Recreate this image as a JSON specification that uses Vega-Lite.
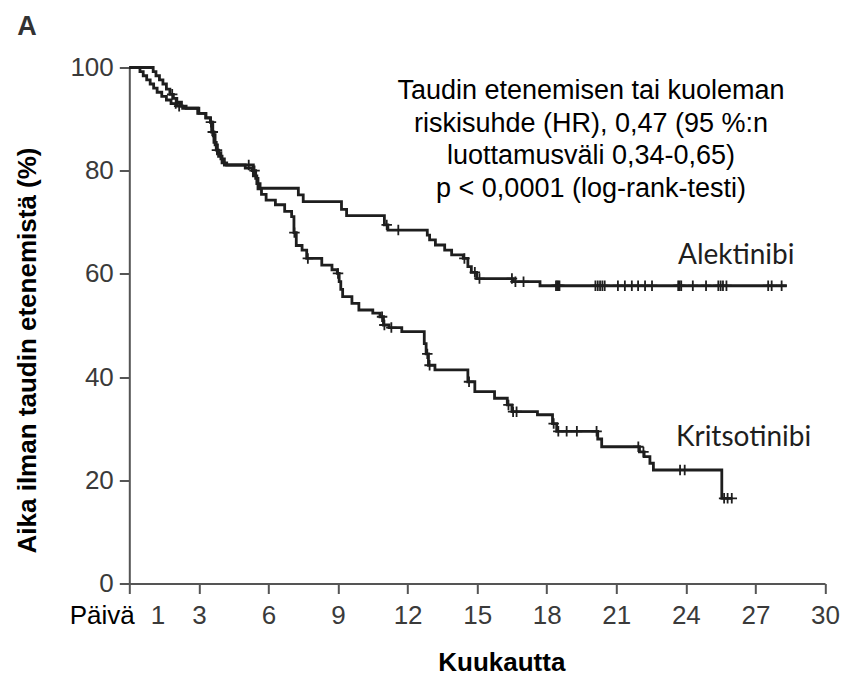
{
  "$schema": "https://vega.github.io/schema/vega-lite/v6.json",
  "width": 695.7,
  "height": 516,
  "autosize": {"type": "none"},
  "padding": {"left": 129.3, "top": 67.5, "right": 20, "bottom": 93.5},
  "background": "white",
  "title": {"text": "A", "anchor": "start", "frame": "group", "dx": -112, "dy": 25, "offset": 18, "baseline": "alphabetic", "fontSize": 27, "fontWeight": "bold", "color": "#333333", "font": "Liberation Sans"},
  "config": {"view": {"stroke": null}},
  "datasets": {
    "curves": [
      {"group": "Alektinibi", "t": 0, "s": 100},
      {"group": "Alektinibi", "t": 1.03, "s": 99.2},
      {"group": "Alektinibi", "t": 1.15, "s": 98.4},
      {"group": "Alektinibi", "t": 1.3, "s": 97.6},
      {"group": "Alektinibi", "t": 1.45, "s": 96.8},
      {"group": "Alektinibi", "t": 1.6, "s": 95.8},
      {"group": "Alektinibi", "t": 1.75, "s": 94.8},
      {"group": "Alektinibi", "t": 1.9, "s": 94.0},
      {"group": "Alektinibi", "t": 2.05, "s": 93.3},
      {"group": "Alektinibi", "t": 2.25, "s": 92.5},
      {"group": "Alektinibi", "t": 2.45, "s": 92.1},
      {"group": "Alektinibi", "t": 3.0, "s": 91.1},
      {"group": "Alektinibi", "t": 3.3, "s": 90.2},
      {"group": "Alektinibi", "t": 3.5, "s": 89.4},
      {"group": "Alektinibi", "t": 3.6, "s": 87.0},
      {"group": "Alektinibi", "t": 3.7, "s": 85.0},
      {"group": "Alektinibi", "t": 3.8, "s": 83.5},
      {"group": "Alektinibi", "t": 3.95, "s": 82.3},
      {"group": "Alektinibi", "t": 4.1, "s": 81.1},
      {"group": "Alektinibi", "t": 5.35, "s": 79.0},
      {"group": "Alektinibi", "t": 5.5, "s": 77.5},
      {"group": "Alektinibi", "t": 5.64, "s": 76.6},
      {"group": "Alektinibi", "t": 7.29, "s": 75.3},
      {"group": "Alektinibi", "t": 7.5, "s": 74.0},
      {"group": "Alektinibi", "t": 9.15, "s": 72.5},
      {"group": "Alektinibi", "t": 9.37, "s": 71.3},
      {"group": "Alektinibi", "t": 11.0, "s": 69.5},
      {"group": "Alektinibi", "t": 11.15, "s": 68.5},
      {"group": "Alektinibi", "t": 12.85, "s": 67.5},
      {"group": "Alektinibi", "t": 12.95, "s": 66.6},
      {"group": "Alektinibi", "t": 13.2, "s": 65.6},
      {"group": "Alektinibi", "t": 13.6, "s": 64.6},
      {"group": "Alektinibi", "t": 13.9, "s": 63.7},
      {"group": "Alektinibi", "t": 14.4, "s": 63.0},
      {"group": "Alektinibi", "t": 14.6, "s": 61.4},
      {"group": "Alektinibi", "t": 14.75, "s": 60.3},
      {"group": "Alektinibi", "t": 14.98, "s": 59.1},
      {"group": "Alektinibi", "t": 16.56, "s": 58.5},
      {"group": "Alektinibi", "t": 17.71, "s": 57.7},
      {"group": "Alektinibi", "t": 28.35, "s": 57.7},
      {"group": "Kritsotinibi", "t": 0, "s": 100},
      {"group": "Kritsotinibi", "t": 0.46, "s": 99.2},
      {"group": "Kritsotinibi", "t": 0.6, "s": 98.4},
      {"group": "Kritsotinibi", "t": 0.75, "s": 97.6},
      {"group": "Kritsotinibi", "t": 0.9, "s": 96.8},
      {"group": "Kritsotinibi", "t": 1.05, "s": 96.0},
      {"group": "Kritsotinibi", "t": 1.2, "s": 95.2},
      {"group": "Kritsotinibi", "t": 1.4, "s": 94.4},
      {"group": "Kritsotinibi", "t": 1.6, "s": 93.7},
      {"group": "Kritsotinibi", "t": 1.8, "s": 93.0},
      {"group": "Kritsotinibi", "t": 2.05, "s": 92.5},
      {"group": "Kritsotinibi", "t": 2.3, "s": 92.1},
      {"group": "Kritsotinibi", "t": 2.95, "s": 91.1},
      {"group": "Kritsotinibi", "t": 3.3, "s": 90.3},
      {"group": "Kritsotinibi", "t": 3.5, "s": 89.4},
      {"group": "Kritsotinibi", "t": 3.55, "s": 87.5},
      {"group": "Kritsotinibi", "t": 3.65, "s": 85.5},
      {"group": "Kritsotinibi", "t": 3.75, "s": 84.0},
      {"group": "Kritsotinibi", "t": 3.85, "s": 82.8},
      {"group": "Kritsotinibi", "t": 4.0, "s": 81.5},
      {"group": "Kritsotinibi", "t": 4.2, "s": 81.1},
      {"group": "Kritsotinibi", "t": 5.0, "s": 80.5},
      {"group": "Kritsotinibi", "t": 5.3, "s": 80.0},
      {"group": "Kritsotinibi", "t": 5.45, "s": 78.5},
      {"group": "Kritsotinibi", "t": 5.55, "s": 76.5},
      {"group": "Kritsotinibi", "t": 5.7, "s": 75.4},
      {"group": "Kritsotinibi", "t": 5.9, "s": 74.3},
      {"group": "Kritsotinibi", "t": 6.3, "s": 73.4},
      {"group": "Kritsotinibi", "t": 6.7, "s": 72.1},
      {"group": "Kritsotinibi", "t": 7.0, "s": 71.1},
      {"group": "Kritsotinibi", "t": 7.1, "s": 68.0},
      {"group": "Kritsotinibi", "t": 7.2, "s": 65.5},
      {"group": "Kritsotinibi", "t": 7.45, "s": 64.6},
      {"group": "Kritsotinibi", "t": 7.65, "s": 63.0},
      {"group": "Kritsotinibi", "t": 8.3, "s": 61.7},
      {"group": "Kritsotinibi", "t": 8.74, "s": 60.8},
      {"group": "Kritsotinibi", "t": 8.97, "s": 60.1},
      {"group": "Kritsotinibi", "t": 9.05, "s": 58.5},
      {"group": "Kritsotinibi", "t": 9.12, "s": 57.0},
      {"group": "Kritsotinibi", "t": 9.2, "s": 55.6},
      {"group": "Kritsotinibi", "t": 9.6, "s": 54.3},
      {"group": "Kritsotinibi", "t": 9.9, "s": 53.0},
      {"group": "Kritsotinibi", "t": 10.5, "s": 52.4},
      {"group": "Kritsotinibi", "t": 10.81, "s": 51.7},
      {"group": "Kritsotinibi", "t": 10.96, "s": 50.1},
      {"group": "Kritsotinibi", "t": 11.2, "s": 49.6},
      {"group": "Kritsotinibi", "t": 11.75, "s": 48.8},
      {"group": "Kritsotinibi", "t": 12.72, "s": 46.5},
      {"group": "Kritsotinibi", "t": 12.8, "s": 44.5},
      {"group": "Kritsotinibi", "t": 12.9, "s": 42.3},
      {"group": "Kritsotinibi", "t": 13.18, "s": 41.4},
      {"group": "Kritsotinibi", "t": 14.6, "s": 39.1},
      {"group": "Kritsotinibi", "t": 14.9, "s": 37.2},
      {"group": "Kritsotinibi", "t": 15.75, "s": 35.9},
      {"group": "Kritsotinibi", "t": 16.3, "s": 34.6},
      {"group": "Kritsotinibi", "t": 16.5, "s": 33.3},
      {"group": "Kritsotinibi", "t": 17.6, "s": 32.7},
      {"group": "Kritsotinibi", "t": 18.25, "s": 31.0},
      {"group": "Kritsotinibi", "t": 18.43, "s": 29.5},
      {"group": "Kritsotinibi", "t": 20.2, "s": 28.0},
      {"group": "Kritsotinibi", "t": 20.37, "s": 26.5},
      {"group": "Kritsotinibi", "t": 22.0, "s": 25.5},
      {"group": "Kritsotinibi", "t": 22.2, "s": 24.6},
      {"group": "Kritsotinibi", "t": 22.45, "s": 23.3},
      {"group": "Kritsotinibi", "t": 22.6, "s": 22.0},
      {"group": "Kritsotinibi", "t": 25.55, "s": 16.5},
      {"group": "Kritsotinibi", "t": 25.98, "s": 16.5}
    ],
    "censors": [
      {"group": "Alektinibi", "t": 1.85, "s": 94.8},
      {"group": "Alektinibi", "t": 3.52, "s": 89.4},
      {"group": "Alektinibi", "t": 5.15, "s": 81.1},
      {"group": "Alektinibi", "t": 11.1, "s": 69.5},
      {"group": "Alektinibi", "t": 11.6, "s": 68.5},
      {"group": "Alektinibi", "t": 14.45, "s": 63.0},
      {"group": "Alektinibi", "t": 14.9, "s": 60.3},
      {"group": "Alektinibi", "t": 15.1, "s": 59.1},
      {"group": "Alektinibi", "t": 16.5, "s": 59.1},
      {"group": "Alektinibi", "t": 16.65, "s": 58.5},
      {"group": "Alektinibi", "t": 17.0, "s": 58.5},
      {"group": "Alektinibi", "t": 18.4, "s": 57.7},
      {"group": "Alektinibi", "t": 18.45, "s": 57.7},
      {"group": "Alektinibi", "t": 18.5, "s": 57.7},
      {"group": "Alektinibi", "t": 18.55, "s": 57.7},
      {"group": "Alektinibi", "t": 20.1, "s": 57.7},
      {"group": "Alektinibi", "t": 20.2, "s": 57.7},
      {"group": "Alektinibi", "t": 20.3, "s": 57.7},
      {"group": "Alektinibi", "t": 20.4, "s": 57.7},
      {"group": "Alektinibi", "t": 20.5, "s": 57.7},
      {"group": "Alektinibi", "t": 21.07, "s": 57.7},
      {"group": "Alektinibi", "t": 21.37, "s": 57.7},
      {"group": "Alektinibi", "t": 21.67, "s": 57.7},
      {"group": "Alektinibi", "t": 21.94, "s": 57.7},
      {"group": "Alektinibi", "t": 22.24, "s": 57.7},
      {"group": "Alektinibi", "t": 22.54, "s": 57.7},
      {"group": "Alektinibi", "t": 23.67, "s": 57.7},
      {"group": "Alektinibi", "t": 23.73, "s": 57.7},
      {"group": "Alektinibi", "t": 23.8, "s": 57.7},
      {"group": "Alektinibi", "t": 24.3, "s": 57.7},
      {"group": "Alektinibi", "t": 24.87, "s": 57.7},
      {"group": "Alektinibi", "t": 25.4, "s": 57.7},
      {"group": "Alektinibi", "t": 25.5, "s": 57.7},
      {"group": "Alektinibi", "t": 25.6, "s": 57.7},
      {"group": "Alektinibi", "t": 25.75, "s": 57.7},
      {"group": "Alektinibi", "t": 27.55, "s": 57.7},
      {"group": "Alektinibi", "t": 27.7, "s": 57.7},
      {"group": "Alektinibi", "t": 28.13, "s": 57.7},
      {"group": "Kritsotinibi", "t": 2.0, "s": 93.0},
      {"group": "Kritsotinibi", "t": 2.15, "s": 92.5},
      {"group": "Kritsotinibi", "t": 3.6, "s": 87.5},
      {"group": "Kritsotinibi", "t": 3.78, "s": 84.0},
      {"group": "Kritsotinibi", "t": 5.4, "s": 80.0},
      {"group": "Kritsotinibi", "t": 7.12, "s": 68.0},
      {"group": "Kritsotinibi", "t": 7.7, "s": 63.0},
      {"group": "Kritsotinibi", "t": 9.0, "s": 60.1},
      {"group": "Kritsotinibi", "t": 10.9, "s": 51.7},
      {"group": "Kritsotinibi", "t": 11.0, "s": 50.1},
      {"group": "Kritsotinibi", "t": 11.3, "s": 49.6},
      {"group": "Kritsotinibi", "t": 12.85, "s": 44.5},
      {"group": "Kritsotinibi", "t": 12.95, "s": 42.3},
      {"group": "Kritsotinibi", "t": 14.65, "s": 39.1},
      {"group": "Kritsotinibi", "t": 16.35, "s": 34.6},
      {"group": "Kritsotinibi", "t": 16.55, "s": 33.3},
      {"group": "Kritsotinibi", "t": 16.7, "s": 33.3},
      {"group": "Kritsotinibi", "t": 18.3, "s": 31.0},
      {"group": "Kritsotinibi", "t": 18.5, "s": 29.5},
      {"group": "Kritsotinibi", "t": 18.86, "s": 29.5},
      {"group": "Kritsotinibi", "t": 19.3, "s": 29.5},
      {"group": "Kritsotinibi", "t": 20.15, "s": 29.5},
      {"group": "Kritsotinibi", "t": 21.95, "s": 26.5},
      {"group": "Kritsotinibi", "t": 22.17, "s": 25.5},
      {"group": "Kritsotinibi", "t": 23.75, "s": 22.0},
      {"group": "Kritsotinibi", "t": 23.95, "s": 22.0},
      {"group": "Kritsotinibi", "t": 25.65, "s": 16.5},
      {"group": "Kritsotinibi", "t": 25.8, "s": 16.5},
      {"group": "Kritsotinibi", "t": 25.98, "s": 16.5}
    ]
  },
  "layer": [
    {
      "data": {"name": "curves"},
      "mark": {"type": "line", "interpolate": "step-after", "stroke": "#1e1e1e", "strokeWidth": 2.8},
      "encoding": {
        "x": {
          "field": "t", "type": "quantitative",
          "scale": {"domain": [0, 30], "nice": false, "zero": false},
          "axis": {
            "title": "Kuukautta",
            "values": [0, 1.22, 3, 6, 9, 12, 15, 18, 21, 24, 27, 30],
            "labelExpr": "datum.value == 0 ? 'Päivä' : (datum.value < 2 ? '1' : datum.label)",
            "labelFlush": false, "labelOverlap": false, "labelBound": false,
            "labelFont": "Liberation Sans", "labelFontSize": 26,
            "labelColor": {"condition": {"test": "datum.value == 0", "value": "#000000"}, "value": "#3a3a3a"},
            "labelAlign": {"condition": {"test": "datum.value == 0", "value": "right"}, "value": "center"},
            "labelOffset": {"condition": {"test": "datum.value == 0", "value": 5}, "value": 0},
            "labelPadding": 9,
            "tickSize": 10, "tickWidth": 2, "tickColor": "#555555",
            "tickOpacity": {"condition": {"test": "datum.value > 1 && datum.value < 2", "value": 0}, "value": 1},
            "domainColor": "#555555", "domainWidth": 2,
            "grid": false,
            "titleFont": "Liberation Sans", "titleFontSize": 26, "titleFontWeight": "bold", "titleColor": "#000000",
            "titleX": 372, "titleY": 87, "titleBaseline": "alphabetic", "titleAlign": "center"
          }
        },
        "y": {
          "field": "s", "type": "quantitative",
          "scale": {"domain": [0, 100], "nice": false},
          "axis": {
            "title": "Aika ilman taudin etenemistä (%)",
            "values": [0, 20, 40, 60, 80, 100],
            "labelFont": "Liberation Sans", "labelFontSize": 26, "labelColor": "#3a3a3a",
            "labelPadding": 6,
            "tickSize": 10, "tickWidth": 2, "tickColor": "#555555",
            "domainColor": "#555555", "domainWidth": 2,
            "grid": false,
            "titleFont": "Liberation Sans", "titleFontSize": 26, "titleFontWeight": "bold", "titleColor": "#000000",
            "titleX": -94.3, "titleY": 282.5, "titleBaseline": "alphabetic", "titleAlign": "center"
          }
        },
        "detail": {"field": "group"}
      }
    },
    {
      "data": {"name": "censors"},
      "mark": {"type": "point", "shape": "M-1,0L1,0M0,-1L0,1", "filled": false, "stroke": "#1e1e1e", "strokeWidth": 1.8, "size": 110, "opacity": 1},
      "encoding": {
        "x": {"field": "t", "type": "quantitative"},
        "y": {"field": "s", "type": "quantitative"}
      }
    },
    {
      "data": {"values": [{"note": "hr"}]},
      "mark": {"type": "text", "text": ["Taudin etenemisen tai kuoleman", "riskisuhde (HR), 0,47 (95 %:n", "luottamusväli 0,34-0,65)", "p < 0,0001 (log-rank-testi)"], "font": "Liberation Sans", "fontSize": 27, "lineHeight": 32.5, "align": "center", "baseline": "top", "color": "#000000"},
      "encoding": {
        "x": {"datum": 19.91, "type": "quantitative"},
        "y": {"datum": 97.9, "type": "quantitative"}
      }
    },
    {
      "data": {"values": [{"label": "Alektinibi"}]},
      "mark": {"type": "text", "font": "Lato", "fontSize": 28, "align": "left", "baseline": "alphabetic", "color": "#1e1e1e"},
      "encoding": {
        "text": {"field": "label"},
        "x": {"datum": 23.66, "type": "quantitative"},
        "y": {"datum": 61.86, "type": "quantitative"}
      }
    },
    {
      "data": {"values": [{"label": "Kritsotinibi"}]},
      "mark": {"type": "text", "font": "Lato", "fontSize": 28, "align": "left", "baseline": "alphabetic", "color": "#1e1e1e"},
      "encoding": {
        "text": {"field": "label"},
        "x": {"datum": 23.57, "type": "quantitative"},
        "y": {"datum": 26.65, "type": "quantitative"}
      }
    }
  ]
}
